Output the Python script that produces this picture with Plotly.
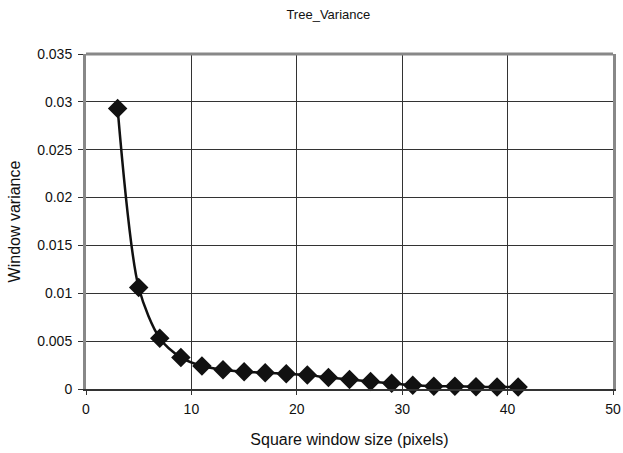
import plotly.graph_objects as go

window_size = [3, 5, 7, 9, 11, 13, 15, 17, 19, 21, 23, 25, 27, 29, 31, 33, 35, 37, 39, 41]
variance = [0.0293, 0.0106, 0.0053, 0.0033, 0.0024, 0.0020, 0.0018, 0.0017, 0.0016, 0.00145,
            0.0012, 0.0010, 0.00078, 0.0006, 0.0004, 0.0003, 0.00028, 0.00024, 0.0002, 0.0002]
x_ticks = [0, 10, 20, 30, 40, 50]
y_ticks = [0, 0.005, 0.01, 0.015, 0.02, 0.025, 0.03, 0.035]
y_tick_text = ["0", "0.005", "0.01", "0.015", "0.02", "0.025", "0.03", "0.035"]

fam = "Liberation Sans, Arial, sans-serif"
font = dict(family=fam, size=13, color="#111111")
tick_font = dict(family=fam, size=14, color="#111111")
axis_title_font = dict(family=fam, size=16, color="#111111")

fig = go.Figure()
fig.add_trace(go.Scatter(
    x=window_size, y=variance, mode="lines+markers",
    line=dict(color="#111111", width=2.5, shape="spline", smoothing=0.8),
    marker=dict(symbol="diamond", size=15, color="#111111"),
    showlegend=False, cliponaxis=False,
))

fig.update_layout(
    width=623, height=453,
    margin=dict(l=86, r=10, t=54, b=64, autoexpand=False),
    paper_bgcolor="white", plot_bgcolor="white",
    font=font,
    title=dict(text="Tree_Variance", x=0.527, xanchor="center", y=0.978, yanchor="top",
               font=font),
    shapes=[dict(type="line", xref="paper", yref="paper", x0=0, x1=1, y0=1, y1=1,
                 line=dict(color="#888888", width=3), layer="above")],
)
fig.update_xaxes(
    range=[0, 50], tickvals=x_ticks, ticks="outside", ticklen=4, tickcolor="#333333",
    tickfont=tick_font, automargin=False, ticklabelstandoff=2,
    showgrid=True, gridcolor="#333333", gridwidth=1,
    showline=True, linecolor="#333333", linewidth=1.5, mirror=False,
    zeroline=False,
    title=dict(text="Square window size (pixels)", standoff=18, font=axis_title_font),
)
fig.update_yaxes(
    range=[0, 0.035], tickvals=y_ticks, ticktext=y_tick_text, ticks="outside", ticklen=5,
    tickcolor="#333333", tickfont=tick_font, automargin=False, ticklabelstandoff=3,
    showgrid=True, gridcolor="#333333", gridwidth=1,
    showline=True, linecolor="#888888", linewidth=3, mirror=True,
    zeroline=False,
    title=dict(text="Window variance", standoff=13, font=axis_title_font),
)
fig.write_html("out.html", config={"displayModeBar": False},
               post_script="document.body.style.margin='0';")
